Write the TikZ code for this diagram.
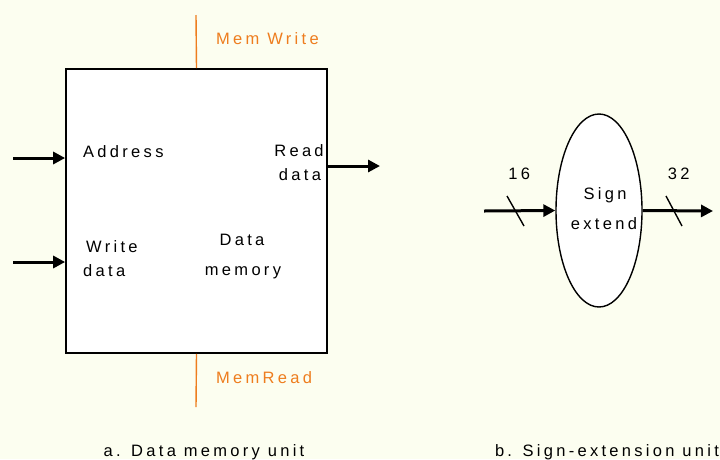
\documentclass[tikz,border=0pt]{standalone}
\usepackage{fontspec}
\setmainfont{Liberation Sans}[LetterSpace=20]
\usepackage{tikz}
\usetikzlibrary{arrows.meta,shapes.geometric,positioning}
\definecolor{bgyellow}{RGB}{252,254,240}
\definecolor{ctrlorange}{RGB}{238,125,30}
\tikzstyle{arrow} = [line width=3pt,-{Triangle[length=12pt,width=12pt]}]

\begin{document}
\begin{tikzpicture} [
    x=1pt,y=-1pt,
    unit/.style={rectangle,draw,line width=1.7pt,fill=white,minimum width=261pt,minimum height=284pt},
    oval/.style={ellipse,draw,line width=1.4pt,fill=white,minimum width=86pt,minimum height=193pt},
    lbl/.style={inner sep=0pt,font=\fontsize{16.5}{24}\selectfont},
    ctrltxt/.style={lbl,text=ctrlorange},
    ctrl/.style={ctrlorange,line width=1.4pt},
    ]
    \fill [bgyellow] (0,0) rectangle (720,459);
    \useasboundingbox (0,0) rectangle (720,459);

    \node [unit] (M) at (196.5,211) {};
    \node [oval] (S) at (599,210.5) {};

    % data memory labels
    \node [lbl,anchor=base west] (addr) at (83,157) {Address};
    \node [lbl,anchor=base] (rdA) at (299,156) {Read};
    \node [lbl,anchor=base] (rdB) at (300,180) {data};
    \node [lbl,anchor=base west] (wrA) at (86,252) {Write};
    \node [lbl,anchor=base west] (wrB) at (83,276) {data};
    \node [lbl,anchor=base] (dmA) at (242,245) {Data};
    \node [lbl,anchor=base] (dmB) at (243,275) {memory};
    \node [ctrltxt,anchor=base west] (mwr) at (216,44) {Mem Write};
    \node [ctrltxt,anchor=base west] (mrd) at (216,383) {MemRead};
    \node [lbl,anchor=base] (capA) at (204,456) {a. Data memory unit};

    % sign extend labels
    \node [lbl,anchor=base] (sgA) at (605,199) {Sign};
    \node [lbl,anchor=base] (sgB) at (604,229) {extend};
    \path (S.west) ++(-36,-31) node [lbl,anchor=base] (w16) {16};
    \path (S.east) ++(36,-31) node [lbl,anchor=base] (w32) {32};
    \node [lbl,anchor=base] (capB) at (607,456) {b. Sign-extension unit};

    % connectors
    \coordinate (addrIn) at (13,158);
    \coordinate (wrIn) at (13,262);
    \coordinate (rdOut) at (380,166);
    \coordinate (mwTop) at (196,15);
    \coordinate (mrBot) at (196,407);
    \coordinate (sIn) at (484,211);
    \coordinate (sOut) at (713,211);

    \draw[arrow] (addrIn) -- (addrIn -| M.west);
    \draw[arrow] (wrIn) -- (wrIn -| M.west);
    \draw[arrow] (rdOut -| M.east) -- (rdOut);
    \draw[ctrl] (mwTop) -- (M.north);
    \draw[ctrl] (M.south) -- (mrBot);
    \draw[arrow] (sIn) -- (S.west);
    \draw[arrow] (S.east) -- (sOut);

    % bus width slashes
    \draw[line width=1.4pt] (507,196) -- (524,226);
    \draw[line width=1.4pt] (666,196) -- (682,226);
    \end{tikzpicture}
\end{document}
